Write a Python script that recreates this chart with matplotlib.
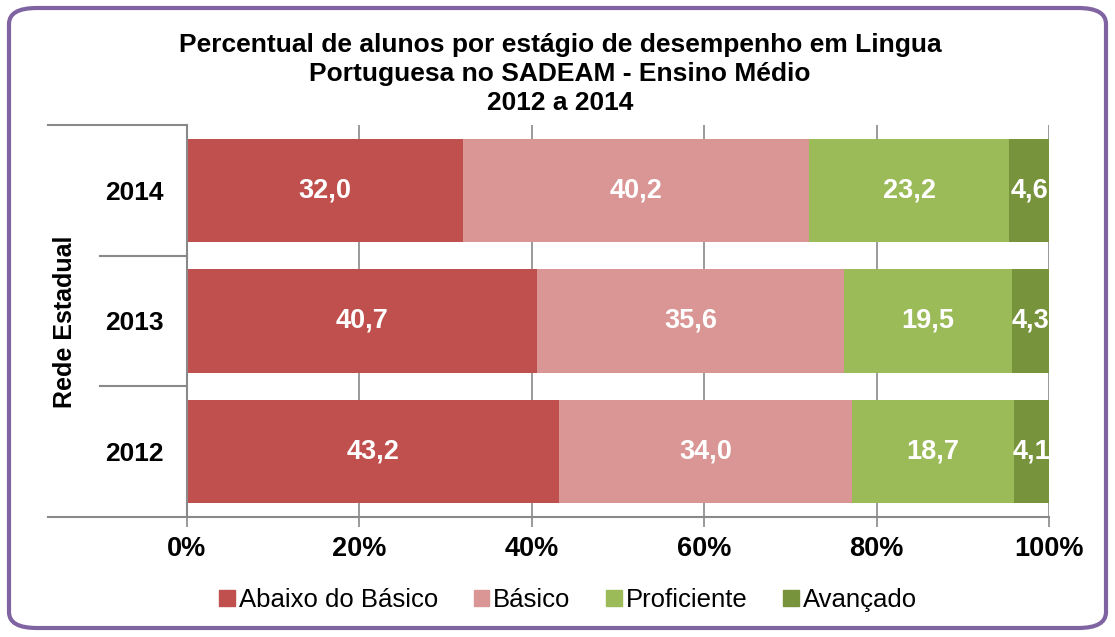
import numpy as np
import matplotlib
matplotlib.use('Agg')
from matplotlib import pyplot as plt
from matplotlib.patches import FancyBboxPatch, Patch

plt.rcParams['font.family'] = ['Liberation Sans', 'DejaVu Sans']

# data
years = ['2012', '2013', '2014']
levels = ['Abaixo do Básico', 'Básico', 'Proficiente', 'Avançado']
abaixo = [43.2, 40.7, 32.0]
basico = [34.0, 35.6, 40.2]
proficiente = [18.7, 19.5, 23.2]
avancado = [4.1, 4.3, 4.6]
colors = ['#C0504D', '#D99694', '#9BBB59', '#77933C']

series = np.array([abaixo, basico, proficiente, avancado])
totals = series.sum(axis=0)
shares = series / totals * 100

fig = plt.figure(figsize=(11.15, 6.37), dpi=100)
ax = fig.add_axes([187/1115, 1 - 517/637, 862/1115, 392/637])

# rounded purple frame
frame = FancyBboxPatch((9/1115, 9/637), 1097/1115, 620/637,
                       boxstyle='round,pad=0,rounding_size=0.025',
                       transform=fig.transFigure, fill=False,
                       edgecolor='#8064A2', linewidth=3, zorder=0)
fig.patches.append(frame)

y = np.arange(len(years))
left = np.zeros(len(years))
for i, name in enumerate(levels):
    ax.barh(y, shares[i], left=left, height=0.79, color=colors[i],
            label=name, zorder=2)
    for j in range(len(years)):
        ax.text(left[j] + shares[i][j] / 2, y[j], f'{series[i][j]:.1f}'.replace('.', ','),
                ha='center', va='center', color='white', fontsize=19.5,
                fontweight='bold', clip_on=True, zorder=3)
    left = left + shares[i]

ax.set_xlim(0, 100)
ax.set_ylim(-0.5, 2.5)
ax.set_xticks([0, 20, 40, 60, 80, 100])
ax.set_xticklabels(['0%', '20%', '40%', '60%', '80%', '100%'],
                   fontsize=19.5, fontweight='bold')
ax.set_yticks(y)
ax.set_yticklabels(years, fontsize=19, fontweight='bold')
ax.tick_params(axis='y', length=0, pad=17)
ax.tick_params(axis='x', length=7, width=1.2, color='#898989', pad=7)
ax.grid(axis='x', color='#898989', linewidth=1.2, zorder=0)
for s in ['top', 'right']:
    ax.spines[s].set_visible(False)
for s in ['left', 'bottom']:
    ax.spines[s].set_color('#898989')
    ax.spines[s].set_linewidth(1.5)

# category separator lines extending to the left
outer = (48 - 187) / 862
inner = (100 - 187) / 862
for b, x0 in [(-0.5, outer), (0.5, inner), (1.5, inner), (2.5, outer)]:
    ax.plot([x0, 0], [b, b], transform=ax.get_yaxis_transform(),
            color='#898989', linewidth=1.5, clip_on=False)

fig.text(65/1115, 1 - 322/637, 'Rede Estadual', rotation=90, ha='center',
         va='center', fontsize=18, fontweight='bold')

fig.text(560/1115, 1 - 74/637,
         'Percentual de alunos por estágio de desempenho em Lingua\n'
         'Portuguesa no SADEAM - Ensino Médio\n2012 a 2014',
         ha='center', va='center', fontsize=19, fontweight='bold',
         linespacing=1.26)

handles = [Patch(color=c) for c in colors]
fig.legend(handles, levels, loc='center', ncol=4,
           bbox_to_anchor=(568/1115, 1 - 600/637), frameon=False,
           fontsize=18.5, handlelength=0.6, handleheight=0.6,
           handletextpad=0.15, columnspacing=1.4)

fig.savefig('out.png', dpi=100)
